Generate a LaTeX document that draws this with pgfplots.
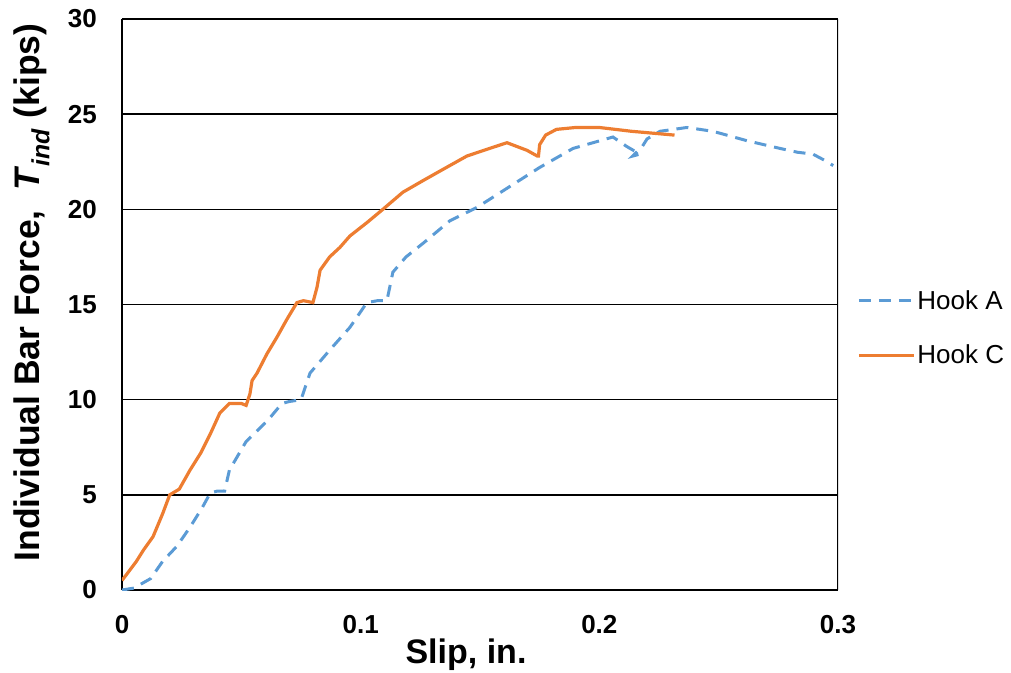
\documentclass[border=0pt]{standalone}
\usepackage{pgfplots}
\pgfplotsset{compat=1.18}
\usepackage{fontspec}
\setmainfont{Liberation Sans}
\definecolor{hookA}{HTML}{5B9BD5}
\definecolor{hookC}{HTML}{ED7D31}
\newcommand\tlfont{\fontsize{26}{30}\selectfont\bfseries}
\begin{document}
\begin{tikzpicture}
\begin{axis}[
  scale only axis,
  width=716pt, height=571pt,
  xmin=0, xmax=0.3, ymin=0, ymax=30,
  xtick={0,0.1,0.2,0.3}, xticklabels={{\tlfont 0},{\tlfont 0.1},{\tlfont 0.2},{\tlfont 0.3}},
  ytick={0,5,10,15,20,25,30}, yticklabels={{\tlfont 0},{\tlfont 5},{\tlfont 10},{\tlfont 15},{\tlfont 20},{\tlfont 25},{\tlfont 30}},
  axis x line*=bottom, axis y line*=left,
  axis line style={line width=2.6pt, black},
  major tick length=0pt,
  ymajorgrids, grid style={line width=1.4pt, black},
  /pgf/number format/assume math mode=true,
  tick label style={font=\tlfont, inner sep=0pt},
  xticklabel style={anchor=base, yshift=-43pt},
  yticklabel style={anchor=east, xshift=-25pt},
  xlabel={Slip, in.},
  ylabel={Individual Bar Force,\ \ \textit{T}\textsubscript{\textit{ind}} (kips)},
  every axis x label/.style={at={(344pt,-73pt)}, anchor=base, font=\fontsize{34}{40}\selectfont\bfseries},
  every axis y label/.style={at={(-82pt,297.5pt)}, anchor=base, rotate=90, font=\fontsize{35.5}{40}\selectfont\bfseries},
  legend cell align=left,
  legend style={draw=none, fill=none, at={(axis description cs:1.0265,0.4588)}, anchor=west,
    font=\fontsize{26}{30}\selectfont, row sep=30pt, inner sep=0pt,
    /tikz/every even column/.append style={column sep=0pt}},
  legend image code/.code={\draw[#1] (0pt,0pt) -- (55pt,0pt);},
]
\addplot[hookA, line width=3pt, dash pattern=on 12pt off 8pt] coordinates {
(0.000,0.0) (0.005,0.1) (0.012,0.6) (0.017,1.5) (0.023,2.3) (0.0285,3.3) (0.0335,4.3)
(0.037,5.1) (0.040,5.2) (0.043,5.2) (0.045,6.3) (0.052,7.8) (0.061,8.9) (0.067,9.8)
(0.070,9.9) (0.075,10.0) (0.0788,11.4) (0.087,12.6) (0.0955,13.8) (0.1026,15.1)
(0.107,15.2) (0.111,15.2) (0.1135,16.7) (0.119,17.5) (0.126,18.2) (0.1374,19.4)
(0.1487,20.1) (0.1625,21.2) (0.175,22.2) (0.189,23.2) (0.2057,23.8) (0.2115,23.3)
(0.217,22.9) (0.214,22.8) (0.218,23.3) (0.220,23.7) (0.2254,24.1) (0.2367,24.3)
(0.2476,24.1) (0.262,23.6) (0.2757,23.2) (0.283,23.0) (0.2895,22.9) (0.294,22.6) (0.298,22.3)
};
\addlegendentry{Hook A}
\addplot[hookC, line width=3.2pt] coordinates {
(0,0.5) (0.006,1.5) (0.009,2.1) (0.013,2.8) (0.017,4.0) (0.020,5.0) (0.024,5.3)
(0.0285,6.3) (0.033,7.2) (0.037,8.2) (0.041,9.3) (0.045,9.8) (0.050,9.8) (0.052,9.7)
(0.0536,10.3) (0.0545,11.0) (0.0566,11.4) (0.0607,12.4) (0.065,13.3) (0.069,14.2)
(0.0733,15.1) (0.076,15.2) (0.080,15.1) (0.0817,15.9) (0.083,16.8) (0.087,17.5)
(0.0913,18.0) (0.0955,18.6) (0.1026,19.3) (0.1093,20.0) (0.1177,20.9) (0.126,21.5)
(0.1345,22.1) (0.1445,22.8) (0.154,23.2) (0.1613,23.5) (0.1697,23.1) (0.174,22.8)
(0.1745,22.8) (0.175,23.4) (0.1775,23.9) (0.182,24.2) (0.19,24.3) (0.2,24.3)
(0.2135,24.1) (0.2315,23.9)
};
\addlegendentry{Hook C}
\draw[line width=2.6pt, black] (rel axis cs:1,0) -- (rel axis cs:1,1);
\end{axis}
\pgfresetboundingbox
\useasboundingbox (-122pt,-82pt) rectangle (889pt,590pt);
\end{tikzpicture}
\end{document}
